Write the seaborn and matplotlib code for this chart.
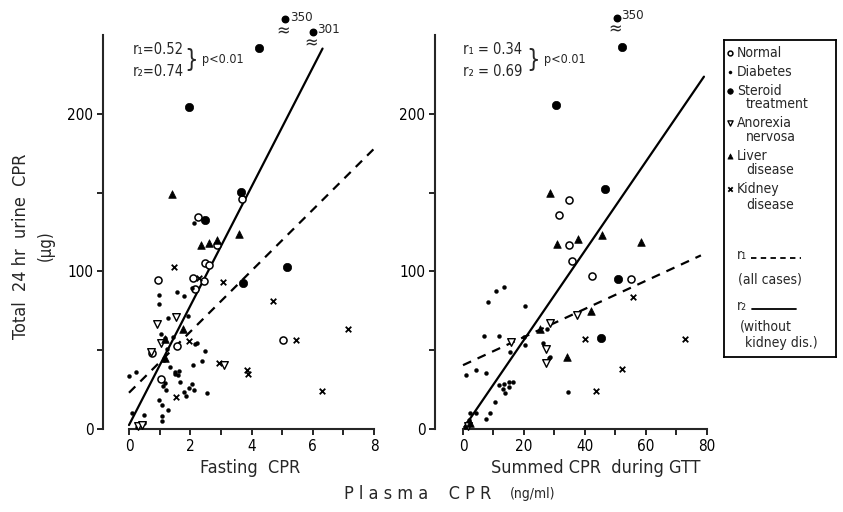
import numpy as np
import pandas as pd
import matplotlib
matplotlib.use("Agg")
import matplotlib.pyplot as plt
import seaborn as sns

# ---------------- data ----------------
# Fasting CPR (ng/ml) vs total 24 hr urine CPR (ug)
normal_fasting = [(2.25, 134.8), (0.96, 94.4), (2.47, 105.6), (2.60, 104.0), (2.08, 96.0),
                  (2.45, 93.7), (2.16, 88.7), (2.86, 117.0), (1.57, 52.9), (0.74, 48.0),
                  (1.03, 31.5), (3.69, 146.0), (5.04, 56.5)]
diabetes_fasting = [(2.12, 130.6), (0.98, 84.9), (0.98, 79.4), (1.57, 86.8), (1.79, 84.3),
                    (2.05, 89.4), (1.27, 70.5), (1.92, 71.7), (1.05, 60.3), (1.18, 57.6),
                    (1.44, 58.6), (1.25, 50.6), (2.23, 54.8), (2.49, 49.7), (2.08, 40.6),
                    (2.38, 43.4), (0.00, 33.8), (0.22, 36.2), (1.35, 39.6), (1.62, 37.0),
                    (1.49, 34.9), (1.68, 29.8), (2.05, 28.6), (2.12, 24.8), (1.79, 23.5),
                    (2.54, 22.6), (0.98, 18.4), (1.07, 15.0), (1.27, 12.1), (1.07, 8.3),
                    (1.07, 4.9), (0.09, 10.0), (0.50, 9.1), (1.16, 29.0), (1.13, 43.8),
                    (1.51, 36.4), (1.60, 34.3), (2.16, 53.8), (1.85, 21.0), (1.95, 26.0),
                    (0.26, 1.0), (0.40, 3.0), (0.48, 4.0), (1.10, 27.0), (1.20, 25.0)]
steroid_fasting = [(4.24, 241.7), (1.95, 204.6), (3.66, 150.2), (2.47, 132.7), (5.15, 103.0),
                   (3.72, 92.9)]
anorexia_fasting = [(0.90, 66.7), (1.53, 70.8), (1.03, 54.4), (0.72, 49.1), (3.10, 40.6),
                    (0.31, 2.0), (0.44, 2.5)]
liver_fasting = [(1.40, 149.0), (2.36, 116.8), (2.62, 117.8), (2.86, 120.0), (3.58, 123.8),
                 (1.77, 63.7), (1.18, 56.9), (1.18, 44.9)]
kidney_fasting = [(1.46, 102.7), (2.27, 96.0), (3.06, 93.3), (1.95, 56.0), (2.93, 41.6),
                  (3.85, 37.5), (3.89, 35.0), (1.53, 20.5), (4.71, 81.3), (5.46, 56.3),
                  (7.14, 63.5), (6.31, 24.3)]
offscale_fasting = [(5.10, 350), (6.00, 301)]

# Summed CPR during GTT (ng/ml) vs total 24 hr urine CPR (ug)
normal_gtt = [(31.6, 135.9), (34.9, 145.4), (34.9, 117.0), (35.7, 106.3), (42.3, 97.3),
              (55.2, 95.4)]
diabetes_gtt = [(8.3, 80.8), (10.8, 87.8), (13.4, 90.0), (20.4, 78.1), (6.9, 59.0),
                (11.9, 59.0), (20.0, 58.2), (20.4, 53.3), (15.4, 49.1), (27.6, 63.3),
                (26.1, 54.4), (28.5, 45.5), (1.0, 34.3), (4.3, 37.5), (7.5, 35.7),
                (11.7, 28.0), (13.4, 28.6), (15.2, 29.8), (16.5, 30.0), (13.2, 25.2),
                (13.9, 23.0), (15.0, 26.5), (10.6, 17.3), (8.9, 10.4), (7.5, 6.2),
                (4.3, 10.4), (2.3, 10.0), (34.3, 23.7), (28.3, 44.9), (1.2, 4.0),
                (2.0, 6.0), (0.8, 1.5)]
steroid_gtt = [(52.0, 242.7), (30.4, 205.5), (46.6, 152.2), (50.8, 95.2), (45.1, 57.6)]
anorexia_gtt = [(15.8, 55.0), (28.5, 67.5), (37.5, 72.4), (27.2, 50.6), (27.2, 41.7),
                (1.5, 2.0)]
liver_gtt = [(28.5, 150.0), (30.9, 117.3), (37.8, 120.4), (45.6, 123.4), (58.4, 118.5),
             (42.1, 74.7), (34.0, 45.9), (25.2, 63.5), (2.3, 3.5)]
kidney_gtt = [(55.8, 84.0), (39.9, 57.0), (72.9, 57.0), (52.1, 37.9), (43.6, 24.3)]
offscale_gtt = [(50.4, 350)]

# regression lines: (intercept, slope, x_start, x_end)
fasting_r1 = (23.0, 19.35, 0.0, 8.0)
fasting_r2 = (2.5, 37.8, 0.0, 6.32)
gtt_r1 = (40.5, 0.893, 0.0, 78.0)
gtt_r2 = (0.0, 2.83, 0.5, 79.0)

fasting_ticks = list(range(0, 9))
fasting_ticklabels = [str(t) if t % 2 == 0 else "" for t in fasting_ticks]
gtt_ticks = list(range(0, 81, 10))
gtt_ticklabels = [str(t) if t % 20 == 0 else "" for t in gtt_ticks]
y_ticks = [0, 50, 100, 150, 200]
y_ticklabels = ["0", "", "100", "", "200"]

groups = ["Normal", "Diabetes", "Steroid", "Anorexia", "Liver", "Kidney"]
fasting_sets = [normal_fasting, diabetes_fasting, steroid_fasting, anorexia_fasting,
                liver_fasting, kidney_fasting]
gtt_sets = [normal_gtt, diabetes_gtt, steroid_gtt, anorexia_gtt, liver_gtt, kidney_gtt]

# ---------------- styling ----------------
sns.set_theme(style="ticks")
plt.rcParams["font.family"] = ["DejaVu Sans"]
plt.rcParams["font.stretch"] = "condensed"
plt.rcParams["axes.linewidth"] = 1.5

W, H = 843, 512
fig = plt.figure(figsize=(W / 100, H / 100), dpi=100)
fig.patch.set_facecolor("white")

STY = {
    "Normal":   dict(marker="o", s=26, color="white", edgecolor="black", linewidth=1.1),
    "Diabetes": dict(marker="o", s=8, color="black", edgecolor="black", linewidth=0.3),
    "Steroid":  dict(marker="o", s=36, color="black", edgecolor="black", linewidth=0.5),
    "Anorexia": dict(marker="v", s=30, color="white", edgecolor="black", linewidth=1.0),
    "Liver":    dict(marker="^", s=30, color="black", edgecolor="black", linewidth=0.5),
    "Kidney":   dict(marker="x", s=16, color="black", linewidth=1.3),
}


def fx(px):
    return px / W


def fy(py):
    return 1 - py / H


def make_df(sets):
    rows = []
    for g, pts in zip(groups, sets):
        for x, y in pts:
            rows.append({"x": x, "y": y, "group": g})
    return pd.DataFrame(rows)


def panel(ax, sets, r1, r2, xticks, xticklabels, xlim, offscale, off_y):
    df = make_df(sets)
    for g in groups:
        sub = df[df["group"] == g]
        sns.scatterplot(data=sub, x="x", y="y", ax=ax, legend=False, clip_on=False,
                        zorder=3, **STY[g])
    for (b0, b1, xa, xb), ls in ((r1, (0, (4, 3.2))), (r2, "-")):
        xs = np.array([xa, xb])
        ax.plot(xs, b0 + b1 * xs, color="black", lw=1.6, ls=ls, zorder=2)
    # off-scale points drawn above the axis with a break sign
    for (x, v), yy in zip(offscale, off_y):
        ax.scatter([x], [yy], s=22, color="black", clip_on=False, zorder=4)
        ax.annotate(f"{v}", xy=(x, yy), xytext=(3.5, 1.5), textcoords="offset points",
                    fontsize=9.5, ha="left", va="center", annotation_clip=False)
        ax.text(x - 0.006 * (xlim[1] - xlim[0]), yy - 7.5, "\u2248", fontsize=13,
                ha="center", va="center", clip_on=False)
    ax.set_xlim(*xlim)
    ax.set_ylim(0, 250)
    ax.set_xticks(xticks)
    ax.set_xticklabels(xticklabels)
    ax.set_yticks(y_ticks)
    ax.set_yticklabels(y_ticklabels)
    ax.spines["bottom"].set_bounds(xticks[0], xticks[-1])
    ax.spines["top"].set_visible(False)
    ax.spines["right"].set_visible(False)
    ax.tick_params(direction="out", length=4, width=1.2, labelsize=11, colors="black",
                   pad=3)
    ax.set_xlabel("")
    ax.set_ylabel("")
    ax.set_facecolor("white")


ax1 = fig.add_axes([fx(103), fy(429), (374 - 103) / W, (429 - 35) / H])
panel(ax1, fasting_sets, fasting_r1, fasting_r2, fasting_ticks, fasting_ticklabels,
      (-0.849, 8.0), offscale_fasting, [260, 252])

ax2 = fig.add_axes([fx(435), fy(429), (707 - 435) / W, (429 - 35) / H])
panel(ax2, gtt_sets, gtt_r1, gtt_r2, gtt_ticks, gtt_ticklabels,
      (-9.18, 80.0), offscale_gtt, [261])

# correlation annotations
for x0, t1, t2 in ((133, "r\u2081=0.52", "r\u2082=0.74"), (463, "r\u2081 = 0.34", "r\u2082 = 0.69")):
    fig.text(fx(x0), fy(49), t1, fontsize=10.5, va="center", ha="left")
    fig.text(fx(x0), fy(72), t2, fontsize=10.5, va="center", ha="left")
for xb, xp in ((184, 202), (526, 544)):
    fig.text(fx(xb), fy(60), "}", fontsize=17, va="center", ha="left")
    fig.text(fx(xp), fy(59), "p<0.01", fontsize=9, va="center", ha="left")

# axis titles
fig.text(fx(250), fy(468), "Fasting  CPR", fontsize=13, ha="center", va="center")
fig.text(fx(596), fy(468), "Summed CPR  during GTT", fontsize=13, ha="center", va="center")
fig.text(fx(418), fy(494), "P l a s m a    C P R", fontsize=13, ha="center", va="center")
fig.text(fx(533), fy(494), "(ng/ml)", fontsize=10, ha="center", va="center")
fig.text(fx(21), fy(246), "Total  24 hr  urine  CPR", fontsize=13, rotation=90,
         ha="center", va="center")
fig.text(fx(46), fy(246), "(\u00b5g)", fontsize=12, rotation=90, ha="center", va="center")

# legend box
lax = fig.add_axes([fx(724), fy(357), (836 - 724) / W, (357 - 40) / H])
lax.set_xlim(724, 836)
lax.set_ylim(357, 40)
lax.set_xticks([])
lax.set_yticks([])
for sp in lax.spines.values():
    sp.set_visible(True)
    sp.set_linewidth(1.3)
    sp.set_color("black")
lax.set_facecolor("white")

leg_rows = {"Normal": 53, "Diabetes": 72, "Steroid": 91, "Anorexia": 123, "Liver": 156,
            "Kidney": 189}
leg_size = {"Normal": 12, "Diabetes": 5, "Steroid": 16, "Anorexia": 14, "Liver": 14,
            "Kidney": 10}
leg_text = [("Normal", 737, 53), ("Diabetes", 737, 72), ("Steroid", 737, 91),
            ("treatment", 746, 104), ("Anorexia", 737, 123), ("nervosa", 746, 137),
            ("Liver", 737, 156), ("disease", 746, 170), ("Kidney", 737, 189),
            ("disease", 746, 205), ("r\u2081", 737, 255), ("(all cases)", 738, 279),
            ("r\u2082", 737, 306), ("(without", 740, 326), ("kidney dis.)", 745, 343)]
for g, yy in leg_rows.items():
    kw = dict(STY[g])
    kw["s"] = leg_size[g]
    lax.scatter([729.5], [yy], clip_on=False, **kw)
for t, x0, yy in leg_text:
    lax.text(x0, yy, t, fontsize=10, ha="left", va="center")
lax.plot([751, 801], [258, 258], color="black", lw=1.3, ls=(0, (3, 2.4)))
lax.plot([752, 796], [309, 309], color="black", lw=1.3)

fig.savefig("out.png", dpi=100, facecolor="white")
